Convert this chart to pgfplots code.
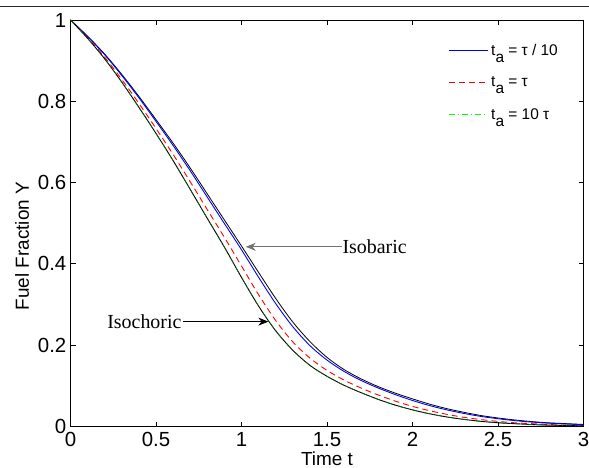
\documentclass[border=0pt]{standalone}
\usepackage{pgfplots}
\usepackage{pgfplotstable}
\pgfplotsset{compat=1.18}
\usepackage{fontspec}
\setmainfont{Liberation Sans}
\newfontfamily\timesf{Liberation Serif}
\usetikzlibrary{arrows.meta}
\definecolor{mblue}{rgb}{0,0,1}
\definecolor{mred}{rgb}{1,0,0}
\definecolor{mgreen}{rgb}{0,1,0}
\definecolor{mdgreen}{rgb}{0,0.45,0}
\newcommand\ta{t\raisebox{-7bp}{a}}

% t  Isobaric  tau/10  tau  Isochoric(=10tau)
\pgfplotstableread{
t    U      B       R       L
0.0  1.000  1.0000  1.0000  1.0000
0.1  0.960  0.9593  0.9567  0.9549
0.2  0.916  0.9145  0.9085  0.9043
0.3  0.866  0.8635  0.8538  0.8471
0.4  0.812  0.8087  0.7948  0.7852
0.5  0.755  0.7506  0.7332  0.7210
0.6  0.697  0.6914  0.6694  0.6541
0.7  0.636  0.6292  0.6022  0.5834
0.8  0.572  0.5642  0.5335  0.5119
0.9  0.508  0.4993  0.4653  0.4413
1.0  0.444  0.4348  0.3948  0.3667
1.1  0.379  0.3671  0.3242  0.2961
1.2  0.315  0.3024  0.2606  0.2355
1.3  0.257  0.2455  0.2081  0.1876
1.4  0.209  0.1991  0.1684  0.1504
1.5  0.170  0.1634  0.1380  0.1235
1.6  0.140  0.1354  0.1141  0.1013
1.7  0.117  0.1131  0.0945  0.0831
1.8  0.098  0.0946  0.0775  0.0666
1.9  0.082  0.0784  0.0624  0.0525
2.0  0.068  0.0640  0.0495  0.0409
2.1  0.055  0.0515  0.0388  0.0313
2.2  0.044  0.0410  0.0300  0.0235
2.3  0.035  0.0322  0.0226  0.0175
2.4  0.027  0.0248  0.0170  0.0127
2.5  0.021  0.0191  0.0125  0.0092
2.6  0.016  0.0144  0.0091  0.0069
2.7  0.012  0.0108  0.0069  0.0047
2.8  0.009  0.0081  0.0048  0.0033
2.9  0.007  0.0061  0.0033  0.0023
3.0  0.005  0.0043  0.0023  0.0016
}\fueldata

\begin{document}
\begin{tikzpicture}
\useasboundingbox (-70.5bp,-41.5bp) rectangle (518.5bp,426.5bp);
\draw[line width=1.5bp, black!85] (-70.5bp,420bp) -- (518.5bp,420bp);
\begin{axis}[
  scale only axis, width=513bp, height=406.5bp,
  at={(0,0)}, anchor=south west,
  xmin=0, xmax=3, ymin=0, ymax=1,
  xtick={0,0.5,1,1.5,2,2.5,3},
  ytick={0,0.2,0.4,0.6,0.8,1},
  tick align=inside, major tick length=5bp,
  axis line style={line width=0.8bp},
  tick style={line width=0.8bp, black},
  /pgf/number format/assume math mode=true,
  ticklabel style={font=\fontsize{20.5}{20.5}\selectfont, inner sep=1bp},
  xticklabel style={yshift=-5bp},
  yticklabel style={xshift=-3bp},
  xlabel={Time t},
  ylabel={Fuel Fraction Y},
  label style={font=\fontsize{19}{19}\selectfont, inner sep=0pt},
  xlabel style={at={(axis description cs:0.5,0)}, anchor=north, yshift=-25bp},
  ylabel style={at={(axis description cs:-0.0945,0.444)}, anchor=center},
  legend style={at={(axis cs:2.21,0.947)}, anchor=north west, draw=none, fill=none,
    font=\fontsize{15.5}{16}\selectfont, row sep=15bp, inner sep=0pt,
    nodes={inner sep=2.5bp}},
  legend cell align=left,
  legend image code/.code={\draw[#1] (0bp,0bp) -- (39bp,0bp);},
]
\addlegendimage{mblue, line width=1.1bp}
\addlegendentry{\ta{} = τ / 10}
\addlegendimage{mred, line width=1.1bp, dash pattern=on 6bp off 4bp}
\addlegendentry{\ta{} = τ}
\addlegendimage{mgreen, line width=1.1bp, dash pattern=on 6bp off 3bp on 1bp off 3bp}
\addlegendentry{\ta{} = 10 τ}

\addplot[forget plot, black, line width=0.8bp, smooth] table[x=t, y=U] {\fueldata};
\addplot[forget plot, mblue, line width=0.9bp, smooth] table[x=t, y=B] {\fueldata};
\addplot[forget plot, mred, line width=0.9bp, smooth, dash pattern=on 6bp off 4bp] table[x=t, y=R] {\fueldata};
\addplot[forget plot, black, line width=0.9bp, smooth] table[x=t, y=L] {\fueldata};
\addplot[forget plot, mdgreen, line width=0.6bp, smooth, dash pattern=on 6bp off 3bp on 1bp off 3bp] table[x=t, y=L] {\fueldata};

\draw[-{Stealth[length=10bp,width=8bp]}, black!55, line width=0.8bp] (axis cs:1.585,0.442) -- (axis cs:1.025,0.442);
\node[anchor=west, font=\timesf\fontsize{20}{20}\selectfont, inner sep=0pt] at (axis cs:1.59,0.442) {Isobaric};
\draw[-{Stealth[length=10bp,width=8bp]}, black, line width=0.8bp] (axis cs:0.655,0.258) -- (axis cs:1.157,0.258);
\node[anchor=east, font=\timesf\fontsize{20}{20}\selectfont, inner sep=0pt] at (axis cs:0.65,0.258) {Isochoric};
\end{axis}
\end{tikzpicture}
\end{document}
